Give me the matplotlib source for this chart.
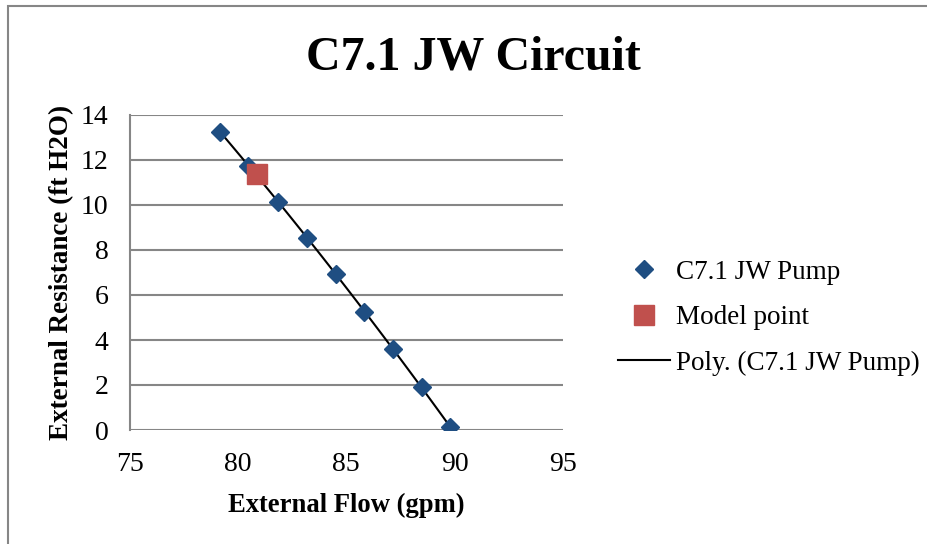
import numpy as np
import matplotlib.pyplot as plt
from matplotlib.patches import Rectangle

# pump curve data
flow = [79.17, 80.48, 81.87, 83.20, 84.52, 85.83, 87.17, 88.48, 89.78]
head = [13.26, 11.75, 10.15, 8.52, 6.93, 5.26, 3.59, 1.90, 0.15]

model_flow = [80.88]
model_head = [11.36]

xticks = [75, 80, 85, 90, 95]
yticks = [0, 2, 4, 6, 8, 10, 12, 14]

plt.rcParams['font.family'] = ['Liberation Serif', 'DejaVu Serif']

fig = plt.figure(figsize=(9.27, 5.44), dpi=100)
ax = fig.add_axes([129.5/927, 1 - 430/544, (563 - 129.5)/927, (430 - 115)/544])

# order-2 polynomial trendline, like Excel's "Poly."
coef = np.polyfit(flow, head, 2)
xf = np.linspace(min(flow), max(flow), 100)
ax.plot(xf, np.polyval(coef, xf), color='black', lw=1.5, zorder=2,
        label='Poly. (C7.1 JW Pump)')
ax.plot(flow, head, 'D', color='#1F4E82', ms=9.5, zorder=3, label='C7.1 JW Pump')
ax.plot(model_flow, model_head, 's', color='#C0504D', ms=14, zorder=4, label='Model point')

ax.set_xlim(75, 95)
ax.set_ylim(0, 14)
ax.set_xticks(xticks)
ax.set_yticks(yticks)
ax.tick_params(length=0, labelsize=20)
ax.tick_params(axis='x', pad=16)
ax.tick_params(axis='y', pad=15)
ax.grid(axis='y', color='#868686', lw=1.5)
ax.set_axisbelow(True)
for s in ['top', 'right', 'bottom']:
    ax.spines[s].set_visible(False)
ax.spines['left'].set_color('#868686')
ax.spines['left'].set_linewidth(1.5)

ax.set_xlabel('External Flow (gpm)', fontsize=19.2, fontweight='bold', labelpad=11.5)
ax.set_ylabel('External Resistance (ft H2O)', fontsize=19.5, fontweight='bold', labelpad=5)

fig.text(473.5/927, 1 - 70/544, 'C7.1 JW Circuit', fontsize=34.5, fontweight='bold',
         ha='center', va='baseline')

h, l = ax.get_legend_handles_labels()
ax.legend([h[1], h[2], h[0]], [l[1], l[2], l[0]], loc='center left',
          bbox_to_anchor=(1.1015, 0.356), frameon=False, fontsize=19.5,
          handlelength=1.93, handletextpad=0.2, labelspacing=0.75,
          borderaxespad=0)

fig.add_artist(Rectangle((8/927, -0.1), 1.2, 1.1 - 6/544, transform=fig.transFigure,
                         fill=False, edgecolor='#868686', lw=1.5))

fig.savefig('out.png', dpi=100)
